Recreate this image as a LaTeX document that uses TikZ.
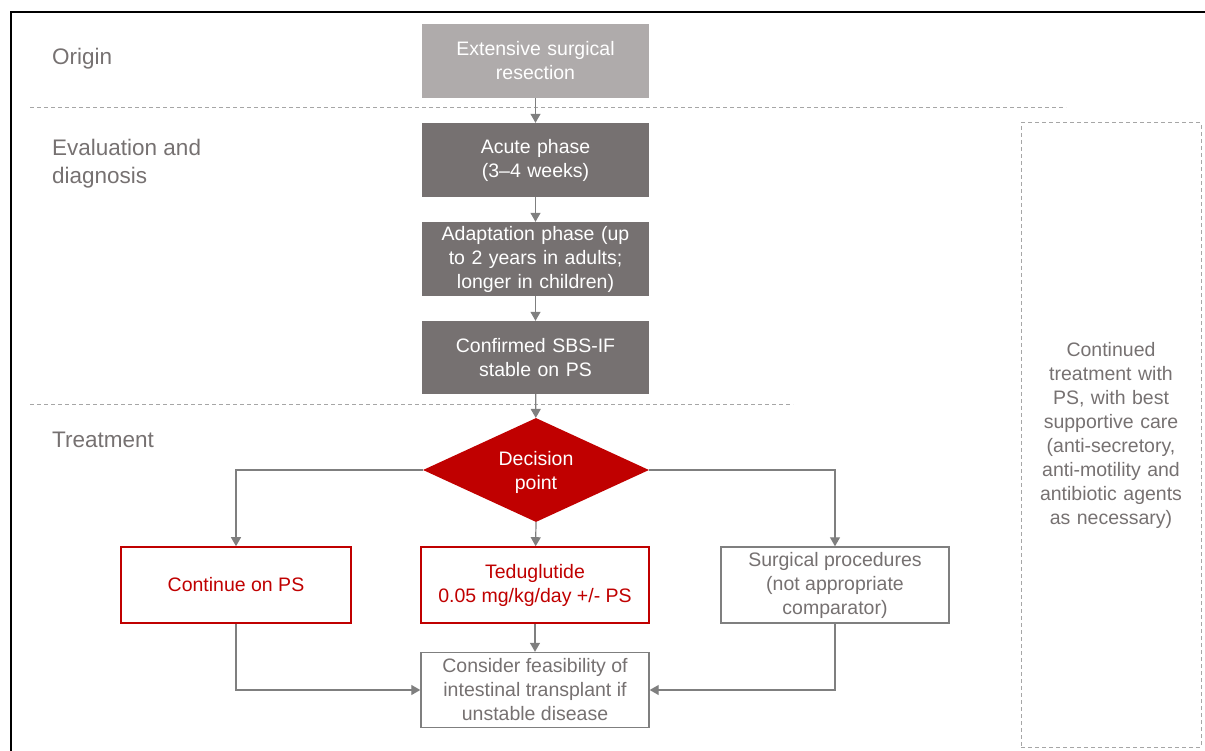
\documentclass[tikz,border=0pt]{standalone}
\usepackage{fontspec}
\setmainfont{Liberation Sans}
\usetikzlibrary{shapes.geometric,arrows.meta}
\definecolor{lgray}{HTML}{AFABAB}
\definecolor{dgray}{HTML}{767171}
\definecolor{tred}{HTML}{C00000}
\definecolor{lblgray}{HTML}{767171}
\definecolor{conn}{HTML}{7F7F7F}
\definecolor{dashgray}{HTML}{A6A6A6}
\begin{document}
\begin{tikzpicture}[x=1pt,y=-1pt,
  boxfont/.style={font=\fontsize{19.5}{24}\selectfont, align=center},
  filledbox/.style={boxfont, text=white, minimum width=227pt, minimum height=74pt, inner sep=2pt, text width=215pt},
  lightbox/.style={filledbox, fill=lgray},
  darkbox/.style={filledbox, fill=dgray},
  redbox/.style={boxfont, draw=tred, line width=1.6pt, text=tred, fill=white, minimum height=76pt, inner sep=2pt},
  graybox/.style={boxfont, draw=conn, line width=1.4pt, text=lblgray, fill=white, inner sep=2pt},
  lbl/.style={font=\fontsize{22.5}{28}\selectfont, text=lblgray, align=left, anchor=west, inner sep=0pt},
  conn/.style={draw=conn, line width=1.2pt, -{Triangle[width=10pt,length=9pt]}},
  sep/.style={draw=dashgray, line width=1pt, dash pattern=on 4pt off 3pt}
]
\useasboundingbox (0,0) rectangle (1205,751);
% frame
\draw[line width=2.5pt] (11,751) -- (11,12) -- (1205,12);
% separators
\draw[sep] (30,108) -- (1066,108);
\draw[sep] (30,404) -- (793,404);
% section labels
\node[lbl] (lo) at (52,59) {Origin};
\node[lbl] (le) at (52,164) {Evaluation and\\diagnosis};
\node[lbl] (lt) at (52,440) {Treatment};
% main column
\node[lightbox] (b1) at (535.5,61) {Extensive surgical\\resection};
\node[darkbox] (b2) at (535.5,160) {Acute phase\\(3--4 weeks)};
\node[darkbox] (b3) at (535.5,259) {Adaptation phase (up\\to 2 years in adults;\\longer in children)};
\node[darkbox, minimum height=73pt] (b4) at (535.5,357.5) {Confirmed SBS-IF\\stable on PS};
\node[diamond, fill=tred, inner sep=0pt, minimum width=226pt, minimum height=104pt, aspect=2.17] (dp) at (536,470) {};
\node[boxfont, text=white] (dpt) at (536,472) {Decision\\point};
% options
\node[redbox, minimum width=230pt] (c1) at (236,585) {Continue on PS};
\node[redbox, minimum width=228pt] (c2) at (535,585) {Teduglutide\\0.05 mg/kg/day +/- PS};
\node[graybox, minimum width=228pt, minimum height=76pt] (c3) at (835,585) {Surgical procedures\\(not appropriate\\comparator)};
\node[graybox, minimum width=228pt, minimum height=75pt] (d) at (535,690) {Consider feasibility of\\intestinal transplant if\\unstable disease};
% right dashed box
\node[draw=dashgray, line width=1pt, dash pattern=on 4pt off 3pt, minimum width=180pt, minimum height=624pt, boxfont, text=lblgray, text width=170pt] (rb) at (1111,435) {Continued\\treatment with\\PS, with best\\supportive care\\(anti-secretory,\\anti-motility and\\antibiotic agents\\as necessary)};
% connectors
\draw[conn] (b1) -- (b2);
\draw[conn] (b2) -- (b3);
\draw[conn] (b3) -- (b4);
\draw[conn] (b4) -- (dp);
\draw[conn] (dp.south) -- (c2);
\draw[conn] (dp.west) -| (c1.north);
\draw[conn] (dp.east) -| (c3.north);
\draw[conn] (c2) -- (d);
\draw[conn] (c1.south) |- (d.west);
\draw[conn] (c3.south) |- (d.east);
\end{tikzpicture}
\end{document}
